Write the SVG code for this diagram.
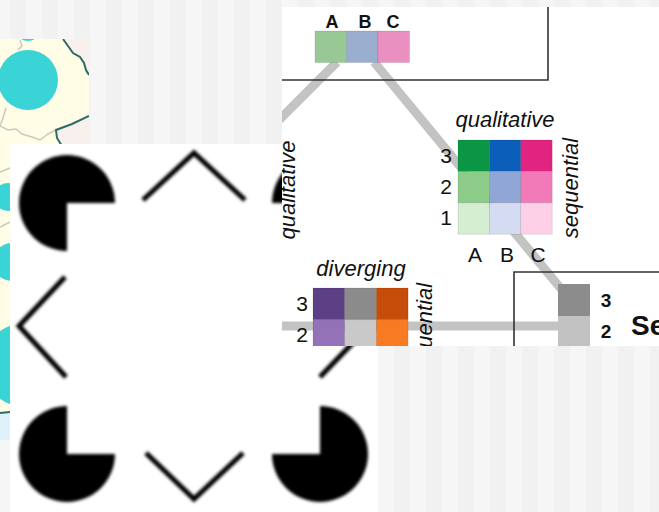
<svg xmlns="http://www.w3.org/2000/svg" width="659" height="512" viewBox="0 0 659 512">
  <defs>
    <pattern id="stripes" patternUnits="userSpaceOnUse" x="10" y="0" width="32" height="10">
      <rect x="0" y="0" width="16" height="10" fill="#f1f1f1"/>
      <rect x="16" y="0" width="16" height="10" fill="#f6f6f6"/>
    </pattern>
    <clipPath id="mapClip"><rect x="0" y="39" width="89" height="401"/></clipPath>
    <clipPath id="panelClip"><rect x="282" y="7" width="377" height="339"/></clipPath>
    <filter id="soft" x="-10%" y="-10%" width="120%" height="120%">
      <feGaussianBlur stdDeviation="1.4"/>
    </filter>
    <style>
      .txt { font-family: "Liberation Sans", Arial, sans-serif; fill: #111; }
      .lbl { font-size: 21px; }
      .it { font-size: 22px; font-style: italic; }
      .bold { font-weight: bold; }
      .link { stroke: #c3c3c3; stroke-width: 9; fill: none; }
      .frame { stroke: #333; stroke-width: 1.6; fill: none; }
      .cell { stroke: rgba(0,0,0,0.12); stroke-width: 0.8; }
      .chev { stroke: #000; stroke-width: 5; fill: none; }
      .mapline { stroke: #c9c9c2; stroke-width: 1.5; fill: none; }
      .border { stroke: #2f6b66; stroke-width: 2; fill: none; }
    </style>
  </defs>

  <!-- striped backdrop -->
  <rect x="0" y="0" width="659" height="512" fill="url(#stripes)"/>

  <!-- map fragment -->
  <g id="map" clip-path="url(#mapClip)">
    <rect x="0" y="39" width="89" height="401" fill="#fffde6"/>
    <path d="M63,39 L68,46 L73,53 L80,57 L84,63 L86,70 L89,75 L89,39 Z" fill="#f8f0ec"/>
    <path d="M89,116 L72,124 L56,130 L57,138 L62,146 L89,146 Z" fill="#f8f0ec"/>
    <rect x="0" y="412" width="89" height="28" fill="#dff2fa"/>
    <path class="mapline" d="M20,40 L22,46 L18,50"/>
    <path class="mapline" d="M6,108 L3,118 L0,126"/>
    <path class="mapline" d="M0,126 L8,130 L16,129 L22,134 L32,137 L40,140 L48,134 L56,130"/>
    <path class="mapline" d="M0,172 L10,168"/>
    <path class="mapline" d="M0,227 L10,222"/>
    <circle cx="28" cy="28" r="13" fill="#3ad4d6"/>
    <circle cx="28" cy="80" r="30" fill="#3ad4d6"/>
    <circle cx="8" cy="197" r="14" fill="#3ad4d6"/>
    <circle cx="12" cy="262" r="19" fill="#3ad4d6"/>
    <circle cx="25" cy="365" r="42" fill="#3ad4d6"/>
    <path class="border" d="M63,39 L68,46 L73,53 L80,57 L84,63 L86,70 L89,75"/>
    <path class="border" d="M89,116 L72,124 L56,130 L57,138 L62,146"/>
    <path class="border" d="M0,413 L10,412"/>
  </g>

  <!-- illusory square panel -->
  <g id="kanizsa">
    <rect x="10" y="144" width="368" height="368" fill="#ffffff"/>
    <g filter="url(#soft)">
      <path id="pac-tl" d="M67,203 L67,251 A48,48 0 1,1 115,203 Z" fill="#000"/>
      <path id="pac-tr" d="M320,203 L272,203 A48,48 0 1,1 320,251 Z" fill="#000"/>
      <path id="pac-bl" d="M67,454 L115,454 A48,48 0 1,1 67,406 Z" fill="#000"/>
      <path id="pac-br" d="M320,454 L320,406 A48,48 0 1,1 272,454 Z" fill="#000"/>
      <polyline id="chev-top" class="chev" points="143,200 194,153 245,200"/>
      <polyline id="chev-left" class="chev" points="65,277 19,326 66,377"/>
      <polyline id="chev-right" class="chev" points="322,277 369,326 320,377"/>
      <polyline id="chev-bottom" class="chev" points="146,453 194,499 243,453"/>
    </g>
  </g>

  <!-- colour scheme panel -->
  <g clip-path="url(#panelClip)">
    <rect x="282" y="7" width="377" height="339" fill="#ffffff"/>

    <g id="connectors">
      <line class="link" x1="337" y1="62" x2="240" y2="159"/>
      <line class="link" x1="374" y1="62" x2="562" y2="290"/>
      <line class="link" x1="270" y1="326" x2="560" y2="326"/>
    </g>

    <!-- legend box edges -->
    <g id="box-top" class="frame">
      <polyline points="270,80 548,80 548,0"/>
    </g>
    <g id="box-right" class="frame">
      <polyline points="514,360 514,272 670,272"/>
    </g>

    <g id="swatch-abc">
      <rect class="cell" x="315" y="31" width="31.5" height="31.5" fill="#98c995"/>
      <rect class="cell" x="346.5" y="31" width="31.5" height="31.5" fill="#9aaecf"/>
      <rect class="cell" x="378" y="31" width="31.5" height="31.5" fill="#e990c1"/>
      <text class="txt bold" font-size="18" x="332" y="28" text-anchor="middle">A</text>
      <text class="txt bold" font-size="18" x="365" y="28" text-anchor="middle">B</text>
      <text class="txt bold" font-size="18" x="393" y="28" text-anchor="middle">C</text>
    </g>

    <g id="qualitative-sequential">
      <rect class="cell" x="458" y="140" width="31.4" height="31.4" fill="#0b9646"/>
      <rect class="cell" x="489.4" y="140" width="31.4" height="31.4" fill="#0b5fba"/>
      <rect class="cell" x="520.8" y="140" width="31.4" height="31.4" fill="#e0247f"/>
      <rect class="cell" x="458" y="171.4" width="31.4" height="31.4" fill="#8dcb89"/>
      <rect class="cell" x="489.4" y="171.4" width="31.4" height="31.4" fill="#90a7d5"/>
      <rect class="cell" x="520.8" y="171.4" width="31.4" height="31.4" fill="#f27ab8"/>
      <rect class="cell" x="458" y="202.8" width="31.4" height="31.4" fill="#d5edd1"/>
      <rect class="cell" x="489.4" y="202.8" width="31.4" height="31.4" fill="#d5dcf1"/>
      <rect class="cell" x="520.8" y="202.8" width="31.4" height="31.4" fill="#fdd0e8"/>
      <text class="txt it" x="505" y="127" text-anchor="middle">qualitative</text>
      <text class="txt lbl" x="446" y="163" text-anchor="middle">3</text>
      <text class="txt lbl" x="446" y="194" text-anchor="middle">2</text>
      <text class="txt lbl" x="446" y="225" text-anchor="middle">1</text>
      <text class="txt lbl" x="475" y="262" text-anchor="middle">A</text>
      <text class="txt lbl" x="507" y="262" text-anchor="middle">B</text>
      <text class="txt lbl" x="538" y="262" text-anchor="middle">C</text>
      <text class="txt it" transform="translate(578,188) rotate(-90)" text-anchor="middle">sequential</text>
    </g>

    <text id="label-qualitative-left" class="txt it" transform="translate(295,190) rotate(-90)" text-anchor="middle">qualitative</text>

    <g id="diverging-sequential">
      <rect class="cell" x="313" y="288" width="31.7" height="31.7" fill="#5d3f85"/>
      <rect class="cell" x="344.7" y="288" width="31.7" height="31.7" fill="#8b8b8b"/>
      <rect class="cell" x="376.4" y="288" width="31.7" height="31.7" fill="#c64c09"/>
      <rect class="cell" x="313" y="319.7" width="31.7" height="31.7" fill="#9372b8"/>
      <rect class="cell" x="344.7" y="319.7" width="31.7" height="31.7" fill="#c9c9c9"/>
      <rect class="cell" x="376.4" y="319.7" width="31.7" height="31.7" fill="#f87b23"/>
      <text class="txt it" x="361" y="276" text-anchor="middle">diverging</text>
      <text class="txt lbl" x="302" y="311" text-anchor="middle">3</text>
      <text class="txt lbl" x="302" y="342" text-anchor="middle">2</text>
      <text class="txt it" transform="translate(432,333) rotate(-90)" text-anchor="middle">sequential</text>
    </g>

    <g id="sequential-gray">
      <rect x="558" y="284" width="32" height="32" fill="#8c8c8c"/>
      <rect x="558" y="316" width="32" height="32" fill="#c2c2c2"/>
      <text class="txt bold" font-size="19" x="606" y="307" text-anchor="middle">3</text>
      <text class="txt bold" font-size="19" x="606" y="338" text-anchor="middle">2</text>
      <text class="txt bold" font-size="28" x="631" y="335">Se</text>
    </g>
  </g>
</svg>
